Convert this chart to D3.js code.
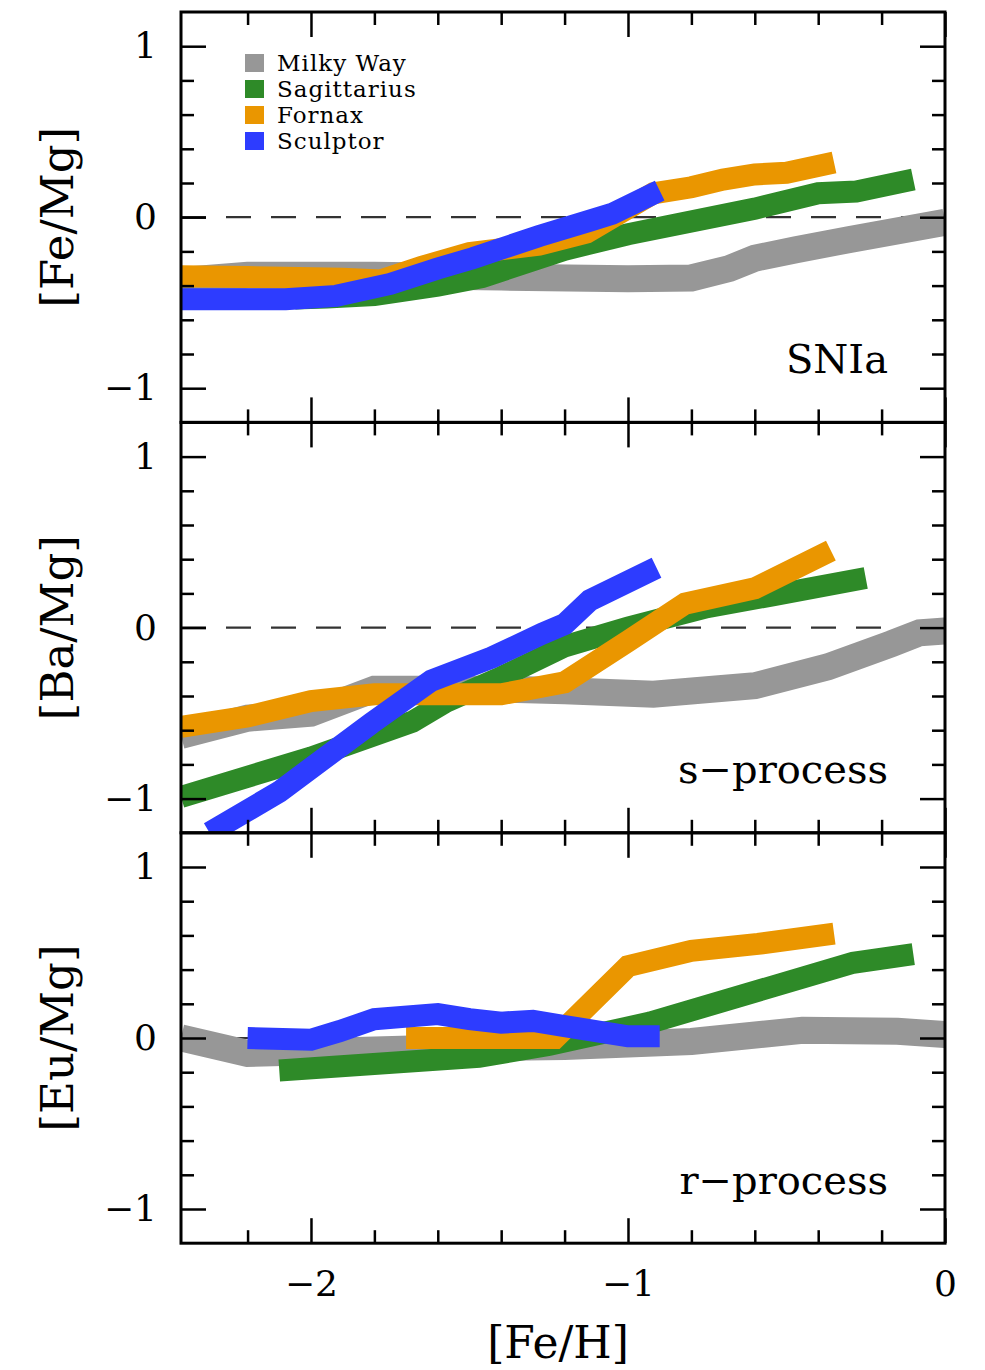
<!DOCTYPE html>
<html>
<head>
<meta charset="utf-8">
<script src="https://cdn.jsdelivr.net/npm/d3@7"></script>
<style>
  body { margin: 0; background: #fff; }
  svg { display: block; }
  .frame { fill: none; stroke: #000; stroke-width: 3; }
  .tick line { stroke: #000; stroke-width: 2.5; }
  .tick text { font-family: "DejaVu Serif", serif; font-size: 36px; fill: #000; }
  .zero { stroke: #333; stroke-width: 2.2; stroke-dasharray: 25,20; }
  .series { fill: none; stroke-linejoin: miter; stroke-linecap: butt; }
</style>
</head>
<body>
<div class="svg-container"></div>
<script>
var series = ["Milky Way", "Sagittarius", "Fornax", "Sculptor"];
var colors = ["#979797", "#2e8a28", "#ea9600", "#2d3cff"];
var yLabels = ["[Fe/Mg]", "[Ba/Mg]", "[Eu/Mg]"];
var panelLabels = ["SNIa", "s\u2212process", "r\u2212process"];
var xMajorTicks = [-2, -1, 0];
var yMajorTicks = [-1, 0, 1];

// [Fe/H], [X/Mg] pairs
var feMgMilkyWay = [[-2.41, -0.37], [-2.2, -0.34], [-1.8, -0.34], [-1.4, -0.35], [-1.0, -0.36], [-0.8, -0.355], [-0.68, -0.30], [-0.6, -0.24], [-0.47, -0.19], [-0.3, -0.13], [0, -0.03]];
var feMgSagittarius = [[-2.05, -0.475], [-1.95, -0.47], [-1.8, -0.455], [-1.6, -0.40], [-1.46, -0.35], [-1.2, -0.19], [-1.0, -0.10], [-0.6, 0.05], [-0.4, 0.14], [-0.28, 0.15], [-0.1, 0.22]];
var feMgFornax = [[-2.41, -0.345], [-2.2, -0.35], [-1.9, -0.36], [-1.78, -0.37], [-1.65, -0.29], [-1.5, -0.21], [-1.28, -0.16], [-1.13, -0.09], [-0.92, 0.14], [-0.8, 0.175], [-0.7, 0.22], [-0.6, 0.25], [-0.5, 0.26], [-0.35, 0.32]];
var feMgSculptor = [[-2.41, -0.48], [-2.08, -0.48], [-1.92, -0.46], [-1.75, -0.39], [-1.6, -0.30], [-1.49, -0.24], [-1.28, -0.11], [-1.12, -0.02], [-1.05, 0.02], [-0.9, 0.155]];

var baMgMilkyWay = [[-2.41, -0.63], [-2.2, -0.53], [-2.0, -0.50], [-1.8, -0.36], [-1.4, -0.36], [-1.2, -0.37], [-0.92, -0.39], [-0.6, -0.34], [-0.37, -0.23], [-0.17, -0.095], [-0.08, -0.03], [0, -0.02]];
var baMgSagittarius = [[-2.41, -0.99], [-2.0, -0.76], [-1.68, -0.55], [-1.57, -0.43], [-1.4, -0.29], [-1.2, -0.11], [-1.0, 0.0], [-0.75, 0.12], [-0.54, 0.19], [-0.25, 0.29]];
var baMgFornax = [[-2.41, -0.58], [-2.2, -0.52], [-2.0, -0.43], [-1.8, -0.39], [-1.4, -0.39], [-1.2, -0.32], [-1.0, -0.08], [-0.82, 0.14], [-0.6, 0.23], [-0.36, 0.45]];
var baMgSculptor = [[-2.32, -1.2], [-2.1, -0.96], [-1.81, -0.56], [-1.62, -0.31], [-1.43, -0.175], [-1.27, -0.035], [-1.2, 0.02], [-1.12, 0.16], [-0.91, 0.35]];

var euMgMilkyWay = [[-2.41, 0.0], [-2.2, -0.09], [-2.0, -0.08], [-1.6, -0.06], [-1.2, -0.05], [-0.8, -0.02], [-0.45, 0.045], [-0.15, 0.04], [0, 0.02]];
var euMgSagittarius = [[-2.1, -0.19], [-1.47, -0.11], [-1.25, -0.04], [-0.93, 0.09], [-0.29, 0.44], [-0.1, 0.49]];
var euMgFornax = [[-1.7, 0.0], [-1.23, 0.0], [-1.0, 0.42], [-0.8, 0.51], [-0.59, 0.55], [-0.35, 0.61]];
var euMgSculptor = [[-2.2, 0.0], [-2.0, -0.01], [-1.91, 0.04], [-1.8, 0.11], [-1.6, 0.14], [-1.5, 0.11], [-1.4, 0.09], [-1.3, 0.10], [-1.2, 0.07], [-1.0, 0.01], [-0.9, 0.01]];

var panelData = [
	[feMgMilkyWay, feMgSagittarius, feMgFornax, feMgSculptor],
	[baMgMilkyWay, baMgSagittarius, baMgFornax, baMgSculptor],
	[euMgMilkyWay, euMgSagittarius, euMgFornax, euMgSculptor]
];

var width = 985, height = 1370;
var plotLeft = 181, plotRight = 945, plotTop = 12, panelH = 410.4;
var majorLen = 25, minorLen = 13;
var lineWidths = [27, 22, 22, 22];

var svg = d3.select('.svg-container')
	.append('svg')
	.attr('width', width)
	.attr('height', height);

var xScale = d3.scaleLinear()
	.domain([-2.41, 0])
	.range([plotLeft, plotRight]);

var xMinor = d3.range(-22, 0, 2).map(function(d) { return d / 10; })
	.filter(function(d) { return xMajorTicks.indexOf(d) < 0; });
var yMinor = d3.range(-10, 11, 2).map(function(d) { return d / 10; })
	.filter(function(d) { return yMajorTicks.indexOf(d) < 0; });

var fmt = function(d) { return d3.format("d")(d); };

panelData.forEach(function(lines, p) {
	var y0 = plotTop + p * panelH;
	var y1 = y0 + panelH;
	var yScale = d3.scaleLinear()
		.domain([-1.2, 1.2])
		.range([y1, y0]);

	var g = svg.append('g');

	svg.append('clipPath')
		.attr('id', 'clip' + p)
		.append('rect')
		.attr('x', plotLeft)
		.attr('y', y0)
		.attr('width', plotRight - plotLeft)
		.attr('height', panelH);

	// dashed zero line
	g.append('line')
		.attr('class', 'zero')
		.attr('x1', plotLeft)
		.attr('x2', plotRight)
		.attr('y1', yScale(0))
		.attr('y2', yScale(0));

	var line = d3.line()
		.x(function(d) { return xScale(d[0]); })
		.y(function(d) { return yScale(d[1]); });

	var body = g.append('g').attr('clip-path', 'url(#clip' + p + ')');
	lines.forEach(function(data, i) {
		body.append('path')
			.datum(data)
			.attr('class', 'series')
			.attr('stroke', colors[i])
			.attr('stroke-width', lineWidths[i])
			.attr('d', line);
	});

	// ticks on all four sides, pointing inward
	var axes = [
		{ axis: d3.axisLeft(yScale), t: 'translate(' + plotLeft + ',0)', minor: yMinor, major: yMajorTicks, labels: true, pad: 24 },
		{ axis: d3.axisRight(yScale), t: 'translate(' + plotRight + ',0)', minor: yMinor, major: yMajorTicks, labels: false, pad: 24 },
		{ axis: d3.axisTop(xScale), t: 'translate(0,' + y0 + ')', minor: xMinor, major: xMajorTicks, labels: false, pad: 28 },
		{ axis: d3.axisBottom(xScale), t: 'translate(0,' + y1 + ')', minor: xMinor, major: xMajorTicks, labels: p === 2, pad: 27 }
	];
	axes.forEach(function(a) {
		g.append('g')
			.attr('transform', a.t)
			.call(a.axis.tickValues(a.minor).tickSize(-minorLen).tickFormat(''))
			.call(function(s) { s.select('.domain').remove(); });
		g.append('g')
			.attr('transform', a.t)
			.call(a.axis.tickValues(a.major).tickSize(-majorLen)
				.tickPadding(a.pad)
				.tickFormat(a.labels ? fmt : ''))
			.call(function(s) {
				s.select('.domain').remove();
				s.attr('font-family', null).attr('font-size', null);
			});
	});

	g.append('rect')
		.attr('class', 'frame')
		.attr('x', plotLeft)
		.attr('y', y0)
		.attr('width', plotRight - plotLeft)
		.attr('height', panelH);

	svg.append('text')
		.text(yLabels[p])
		.attr('transform', 'translate(57,' + yScale(0) + ') rotate(-90)')
		.attr('text-anchor', 'middle')
		.attr('dy', '0.35em')
		.attr('font-family', 'DejaVu Serif')
		.attr('font-size', 45);

	svg.append('text')
		.text(panelLabels[p])
		.attr('x', 888)
		.attr('y', yScale(-0.91))
		.attr('text-anchor', 'end')
		.attr('font-family', 'DejaVu Serif')
		.attr('font-size', 40);
});

// legend
var legend = svg.append('g');
series.forEach(function(name, i) {
	legend.append('rect')
		.attr('x', 245)
		.attr('y', 54 + i * 26)
		.attr('width', 19)
		.attr('height', 18)
		.attr('fill', colors[i]);
	legend.append('text')
		.text(name)
		.attr('x', 277)
		.attr('y', 71 + i * 26)
		.attr('font-family', 'DejaVu Serif')
		.attr('font-size', 23)
		.attr('letter-spacing', 1);
});

svg.append('text')
	.text('[Fe/H]')
	.attr('x', 558)
	.attr('y', 1358)
	.attr('text-anchor', 'middle')
	.attr('font-family', 'DejaVu Serif')
	.attr('font-size', 44);
</script>
</body>
</html>
